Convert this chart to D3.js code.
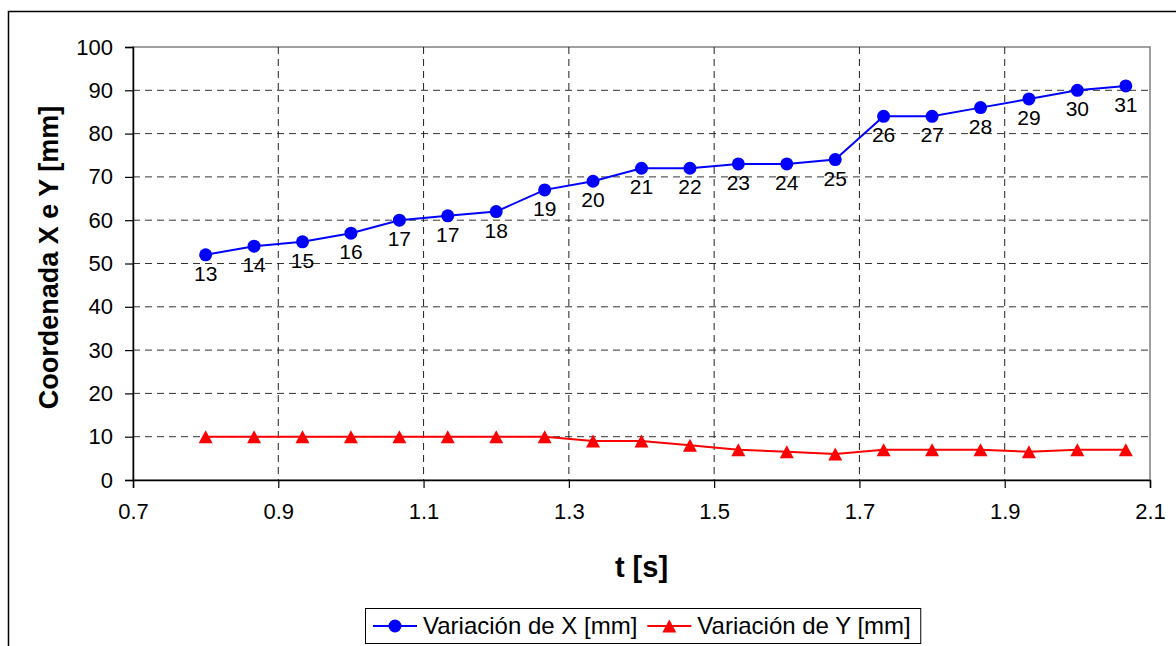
<!DOCTYPE html>
<html><head><meta charset="utf-8">
<script src="https://cdn.jsdelivr.net/npm/d3@7"></script>
<style>
body{margin:0;background:#fff}
svg{display:block;font-family:"Liberation Sans",Arial,sans-serif}
</style>
</head><body>
<svg id="c" width="1176" height="646"></svg>
<script>
// ---- data ----
const times = [0.8, 0.8667, 0.9333, 1.0, 1.0667, 1.1333, 1.2, 1.2667, 1.3333, 1.4,
               1.4667, 1.5333, 1.6, 1.6667, 1.7333, 1.8, 1.8667, 1.9333, 2.0, 2.0667];
const pointLabels = ["13","14","15","16","17","17","18","19","20","21",
                     "22","23","24","25","26","27","28","29","30","31"];
const seriesX = [52, 54, 55, 57, 60, 61, 62, 67, 69, 72, 72, 73, 73, 74, 84, 84, 86, 88, 90, 91];
const seriesY = [10, 10, 10, 10, 10, 10, 10, 10, 9, 9, 8, 7, 6.5, 6, 7, 7, 7, 6.5, 7, 7];
const xTicks = [0.7, 0.9, 1.1, 1.3, 1.5, 1.7, 1.9, 2.1];
const yTicks = [0, 10, 20, 30, 40, 50, 60, 70, 80, 90, 100];
const seriesNames = ["Variación de X [mm]", "Variación de Y [mm]"];
const xTitle = "t [s]";
const yTitle = "Coordenada X e Y [mm]";

// ---- layout ----
const svg = d3.select("#c");
const L = 133, R = 1150, T = 47, B = 480;
const x = d3.scaleLinear().domain([0.7, 2.1]).range([L, R]);
const y = d3.scaleLinear().domain([0, 100]).range([B, T]);
const blue = "#0000ff", red = "#ff0000";

// outer chart border
svg.append("rect").attr("x", 8.5).attr("y", 11.5).attr("width", 1180).attr("height", 700)
  .attr("fill", "none").attr("stroke", "#000").attr("stroke-width", 1.5);

// plot area border (gray)
svg.append("rect").attr("x", L).attr("y", T).attr("width", R - L).attr("height", B - T)
  .attr("fill", "none").attr("stroke", "#808080").attr("stroke-width", 1.5);

// grid
const g = svg.append("g");
g.selectAll(".hg").data(yTicks.filter(d => d > 0 && d < 100)).join("line")
  .attr("x1", L).attr("x2", R).attr("y1", d => y(d)).attr("y2", d => y(d))
  .attr("stroke", "#333").attr("stroke-width", 1).attr("stroke-dasharray", "7,5");
g.selectAll(".vg").data(xTicks.filter(d => d > 0.7 && d < 2.1)).join("line")
  .attr("y1", T).attr("y2", B).attr("x1", d => x(d)).attr("x2", d => x(d))
  .attr("stroke", "#222").attr("stroke-width", 1).attr("stroke-dasharray", "7,5");

// axes
const xAxis = d3.axisBottom(x).tickValues(xTicks).tickFormat(d3.format(".1f")).tickSize(8).tickPadding(15);
const yAxis = d3.axisLeft(y).tickValues(yTicks).tickFormat(d3.format("d")).tickSize(8).tickPadding(12);
const gx = svg.append("g").attr("transform", `translate(0,${B})`).call(xAxis);
const gy = svg.append("g").attr("transform", `translate(${L},0)`).call(yAxis);
[gx, gy].forEach(a => {
  a.select(".domain").attr("stroke", "#000").attr("stroke-width", 1.5);
  a.selectAll(".tick line").attr("stroke", "#000").attr("stroke-width", 1.2);
  a.selectAll(".tick text").attr("fill", "#000").style("font-size", "22px")
    .style("font-family", '"Liberation Sans",Arial,sans-serif');
});

// titles
svg.append("text").attr("x", (L + R) / 2).attr("y", 577).attr("text-anchor", "middle")
  .style("font-size", "29px").style("font-weight", "bold").text(xTitle);
svg.append("text").attr("transform", `translate(58,${(T + B) / 2 - 6}) rotate(-90)`)
  .attr("text-anchor", "middle").style("font-size", "27px").style("font-weight", "bold").text(yTitle);

// series
const idx = d3.range(times.length);
const lineX = d3.line().x(i => x(times[i])).y(i => y(seriesX[i]));
const lineY = d3.line().x(i => x(times[i])).y(i => y(seriesY[i]));
const tri = "M0,-6.5L7,6.5L-7,6.5Z";

svg.append("path").attr("d", lineY(idx)).attr("fill", "none").attr("stroke", red).attr("stroke-width", 2);
svg.selectAll(".ty").data(idx).join("path")
  .attr("d", tri).attr("transform", i => `translate(${x(times[i])},${y(seriesY[i])})`).attr("fill", red);

svg.append("path").attr("d", lineX(idx)).attr("fill", "none").attr("stroke", blue).attr("stroke-width", 2);
svg.selectAll(".cx").data(idx).join("circle")
  .attr("cx", i => x(times[i])).attr("cy", i => y(seriesX[i])).attr("r", 6.5).attr("fill", blue);

svg.selectAll(".lbl").data(idx).join("text")
  .attr("x", i => x(times[i])).attr("y", i => y(seriesX[i]) + 26)
  .attr("text-anchor", "middle").style("font-size", "21px").attr("fill", "#000")
  .text(i => pointLabels[i]);

// legend
const lg = svg.append("g");
const box = lg.append("rect").attr("x", 365.5).attr("y", 608.5).attr("height", 35)
  .attr("fill", "#fff").attr("stroke", "#000").attr("stroke-width", 1);
let cx0 = 373;
const ly = 626;
seriesNames.forEach((name, k) => {
  lg.append("line").attr("x1", cx0).attr("x2", cx0 + 44).attr("y1", ly).attr("y2", ly)
    .attr("stroke", k === 0 ? blue : red).attr("stroke-width", 2);
  if (k === 0) lg.append("circle").attr("cx", cx0 + 22).attr("cy", ly).attr("r", 6.5).attr("fill", blue);
  else lg.append("path").attr("d", tri).attr("transform", `translate(${cx0 + 22},${ly})`).attr("fill", red);
  const t = lg.append("text").attr("x", cx0 + 50).attr("y", ly + 8).style("font-size", "24px").text(name);
  cx0 = cx0 + 50 + t.node().getComputedTextLength() + 10;
});
box.attr("width", cx0 - 365.5);
</script>
</body></html>
